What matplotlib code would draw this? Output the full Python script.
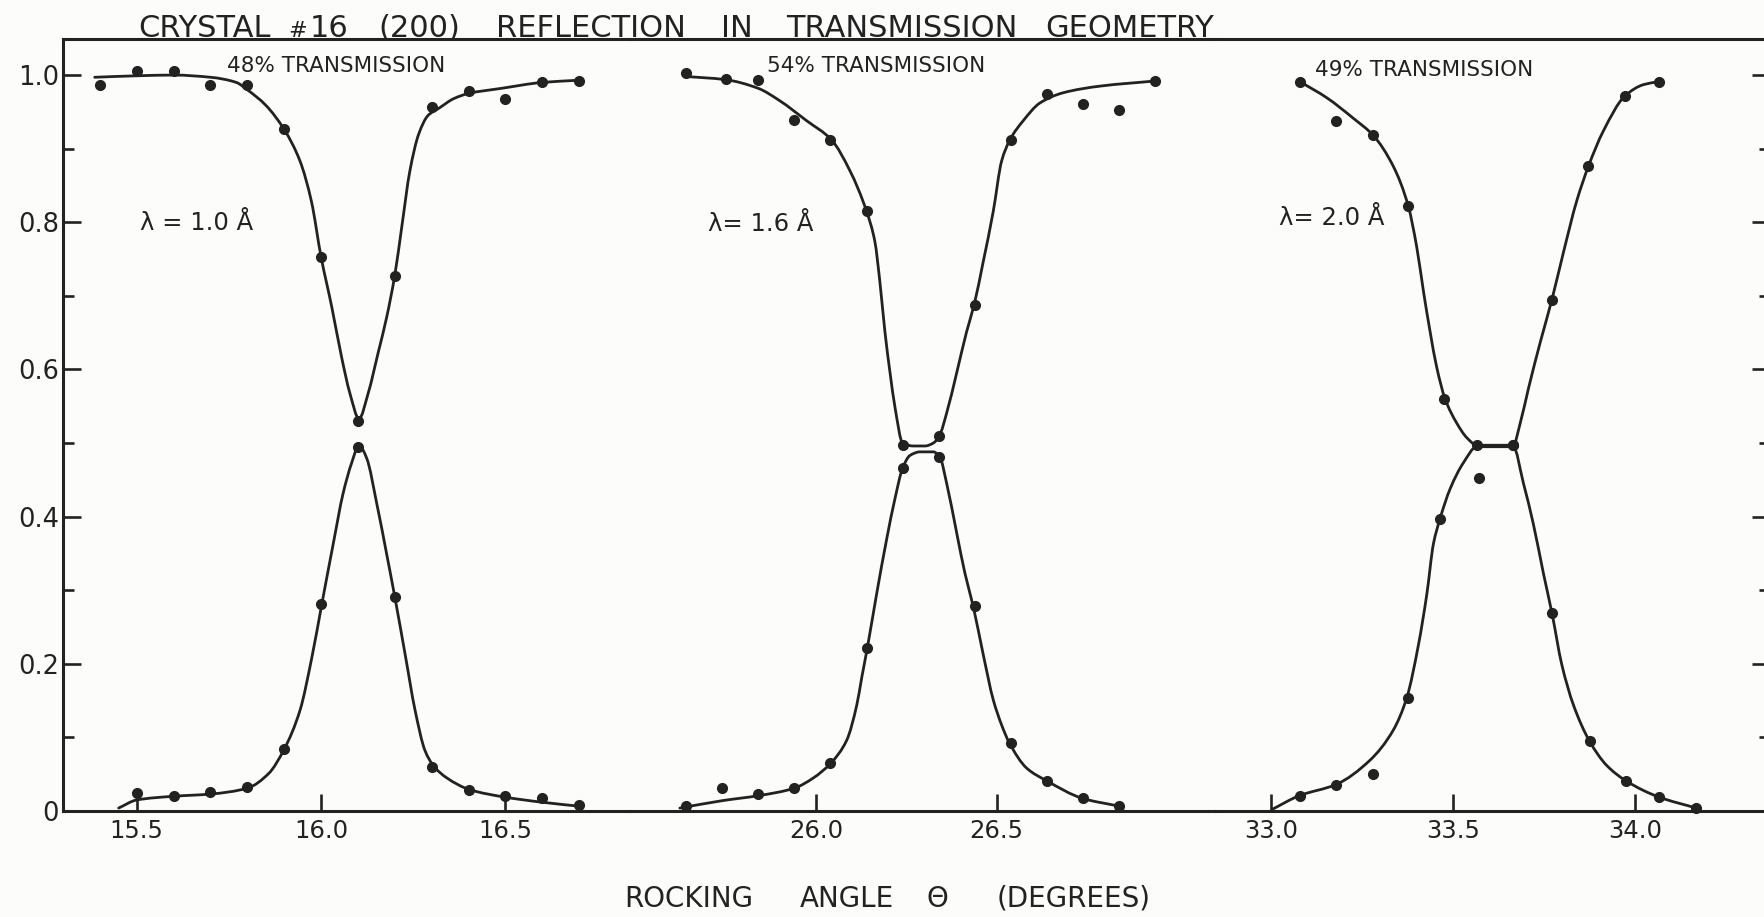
from __future__ import annotations

import matplotlib
matplotlib.use("Agg")
import matplotlib.pyplot as plt
import numpy as np
from matplotlib.patches import PathPatch
from matplotlib.path import Path
from matplotlib.ticker import FixedLocator, MultipleLocator

INK = "#222222"
PAPER = "#fcfcfb"

# lambda = 1.0 A : measured transmitted / reflected intensities
T1_THETA = [15.4, 15.5, 15.6, 15.7, 15.8, 15.9, 16.0, 16.1, 16.2, 16.3, 16.4, 16.5, 16.6, 16.7]
T1_VALUE = [0.986, 1.006, 1.006, 0.986, 0.986, 0.927, 0.753, 0.530, 0.727, 0.956, 0.978, 0.967, 0.991, 0.992]
R1_THETA = [15.5, 15.6, 15.7, 15.8, 15.9, 16.0, 16.1, 16.2, 16.3, 16.4, 16.5, 16.6, 16.7]
R1_VALUE = [0.025, 0.020, 0.026, 0.033, 0.084, 0.281, 0.495, 0.291, 0.060, 0.029, 0.020, 0.017, 0.008]

# lambda = 1.0 A : hand-drawn fit curves
T1_FIT_THETA = [15.386, 15.50, 15.60, 15.70, 15.77, 15.80, 15.85, 15.90, 15.943, 15.974, 16.00,
                16.029, 16.056, 16.078, 16.103, 16.128, 16.155, 16.178, 16.20, 16.219, 16.241,
                16.265, 16.29, 16.32, 16.36, 16.40, 16.49, 16.60, 16.70]
T1_FIT_VALUE = [0.997, 0.999, 1.000, 0.997, 0.990, 0.980, 0.959, 0.926, 0.883, 0.828, 0.753,
                0.685, 0.616, 0.568, 0.533, 0.568, 0.623, 0.671, 0.728, 0.794, 0.870,
                0.920, 0.945, 0.955, 0.968, 0.975, 0.982, 0.990, 0.993]
R1_FIT_THETA = [15.451, 15.50, 15.60, 15.70, 15.80, 15.858, 15.90, 15.943, 15.974, 16.002, 16.033,
                16.060, 16.083, 16.103, 16.124, 16.151, 16.178, 16.20, 16.228, 16.255, 16.282,
                16.304, 16.341, 16.403, 16.497, 16.598, 16.71]
R1_FIT_VALUE = [0.004, 0.015, 0.020, 0.023, 0.031, 0.051, 0.084, 0.137, 0.206, 0.281, 0.363,
                0.432, 0.473, 0.497, 0.479, 0.418, 0.349, 0.291, 0.213, 0.137, 0.082,
                0.062, 0.045, 0.029, 0.019, 0.012, 0.006]

# lambda = 1.6 A
T2_THETA = [25.64, 25.75, 25.84, 25.94, 26.04, 26.14, 26.24, 26.34, 26.44, 26.54, 26.64, 26.74, 26.84, 26.94]
T2_VALUE = [1.003, 0.994, 0.993, 0.939, 0.912, 0.815, 0.498, 0.510, 0.688, 0.912, 0.974, 0.960, 0.953, 0.992]
R2_THETA = [25.64, 25.74, 25.84, 25.94, 26.04, 26.14, 26.24, 26.34, 26.44, 26.54, 26.64, 26.74, 26.84]
R2_VALUE = [0.007, 0.031, 0.023, 0.031, 0.065, 0.221, 0.466, 0.481, 0.279, 0.093, 0.041, 0.017, 0.007]

T2_FIT_THETA = [25.642, 25.746, 25.840, 25.900, 25.974, 26.043, 26.094, 26.140, 26.163, 26.177,
                26.191, 26.205, 26.219, 26.240, 26.270, 26.302, 26.325, 26.342, 26.362, 26.390,
                26.417, 26.438, 26.463, 26.491, 26.514, 26.537, 26.574, 26.620, 26.685, 26.787, 26.940]
T2_FIT_VALUE = [0.998, 0.994, 0.982, 0.965, 0.938, 0.912, 0.870, 0.815, 0.774, 0.719,
                0.651, 0.596, 0.548, 0.500, 0.496, 0.496, 0.500, 0.510, 0.541, 0.596,
                0.651, 0.688, 0.746, 0.815, 0.883, 0.912, 0.938, 0.962, 0.976, 0.985, 0.992]
R2_FIT_THETA = [25.623, 25.74, 25.843, 25.940, 25.993, 26.041, 26.085, 26.113, 26.127, 26.142,
                26.168, 26.196, 26.219, 26.240, 26.260, 26.288, 26.325, 26.343, 26.362, 26.390,
                26.413, 26.435, 26.463, 26.491, 26.514, 26.535, 26.584, 26.639, 26.739, 26.835]
R2_FIT_VALUE = [0.004, 0.014, 0.021, 0.031, 0.045, 0.065, 0.096, 0.144, 0.182, 0.221,
                0.295, 0.370, 0.425, 0.466, 0.483, 0.488, 0.488, 0.481, 0.445, 0.377,
                0.322, 0.279, 0.213, 0.151, 0.117, 0.093, 0.058, 0.041, 0.017, 0.007]

# lambda = 2.0 A
T3_THETA = [33.08, 33.18, 33.28, 33.375, 33.475, 33.565, 33.665, 33.77, 33.87, 33.97, 34.065]
T3_VALUE = [0.991, 0.938, 0.918, 0.822, 0.560, 0.498, 0.498, 0.695, 0.876, 0.972, 0.991]
R3_THETA = [33.08, 33.18, 33.28, 33.375, 33.465, 33.57, 33.665, 33.77, 33.875, 33.975, 34.065, 34.165]
R3_VALUE = [0.021, 0.036, 0.050, 0.154, 0.397, 0.452, 0.497, 0.269, 0.095, 0.041, 0.019, 0.004]

T3_FIT_THETA = [33.080, 33.154, 33.227, 33.281, 33.336, 33.377, 33.400, 33.419, 33.437, 33.455,
                33.478, 33.510, 33.538, 33.565, 33.665, 33.684, 33.707, 33.739, 33.771, 33.803,
                33.839, 33.871, 33.912, 33.972, 34.022, 34.063]
T3_FIT_VALUE = [0.991, 0.969, 0.941, 0.918, 0.876, 0.822, 0.767, 0.705, 0.651, 0.603,
                0.560, 0.527, 0.507, 0.497, 0.497, 0.527, 0.575, 0.637, 0.695, 0.760,
                0.829, 0.876, 0.924, 0.972, 0.987, 0.991]
R3_FIT_THETA = [33.003, 33.079, 33.179, 33.272, 33.336, 33.373, 33.405, 33.428, 33.446, 33.464,
                33.492, 33.528, 33.565, 33.665, 33.693, 33.720, 33.748, 33.771, 33.798, 33.830,
                33.874, 33.921, 33.974, 34.064, 34.167]
R3_FIT_VALUE = [0.002, 0.021, 0.036, 0.069, 0.110, 0.154, 0.226, 0.295, 0.363, 0.397,
                0.438, 0.473, 0.495, 0.495, 0.445, 0.390, 0.322, 0.269, 0.199, 0.144,
                0.095, 0.062, 0.041, 0.019, 0.004]

# per-panel labels
TRANSMISSION_LABELS = ["48% TRANSMISSION", "54% TRANSMISSION", "49% TRANSMISSION"]
WAVELENGTH_LABELS = ["λ = 1.0 Å", "λ= 1.6 Å", "λ= 2.0 Å"]
X_TICKS = [[15.5, 16.0, 16.5], [26.0, 26.5], [33.0, 33.5, 34.0]]
Y_TICKS = [0, 0.2, 0.4, 0.6, 0.8, 1.0]
Y_TICK_LABELS = ["0", "0.2", "0.4", "0.6", "0.8", "1.0"]
TITLE_WORDS = ["CRYSTAL", "#", "16", "(200)", "REFLECTION", "IN", "TRANSMISSION", "GEOMETRY"]
XLABEL_WORDS = ["ROCKING", "ANGLE", "Θ", "(DEGREES)"]

# layout, in output pixels (1764 x 917)
W, H = 1764, 917
FRAME_TOP, FRAME_BOTTOM = 39, 811
PANEL_EDGES = [63, 630, 1215, 1770]   # last panel runs past the page edge
XLIMS = [(15.300, 16.838), (25.485, 27.105), (32.847, 34.369)]
YMAX = 1.049
TITLE_X = [138, 288, 310, 378, 496, 721, 786, 1045]
TITLE_SIZE = [22, 16, 22, 22, 22, 22, 22, 22]
TITLE_BASE = 37
XLABEL_X = [624, 800, 926, 997]
XLABEL_BASE = 907
TRANS_POS = [(15.745, 1.004), (25.865, 1.004), (33.120, 0.999)]
LAMBDA_POS = [(15.510, 0.789), (25.702, 0.788), (33.023, 0.796)]


def fx(px: float) -> float:
    return px / W


def fy(py: float) -> float:
    return 1 - py / H


def fit_path(xs, ys) -> Path:
    """Pen line through the fit knots as monotone cubic (PCHIP-style) Beziers.

    Slopes are zero wherever the knots turn, so the flat tops and the
    sharp minima don't overshoot.
    """
    x = np.asarray(xs, float)
    y = np.asarray(ys, float)
    h = np.diff(x)
    delta = np.diff(y) / h
    m = np.empty_like(y)
    m[0], m[-1] = delta[0], delta[-1]
    for k in range(1, len(x) - 1):
        if delta[k - 1] * delta[k] <= 0:
            m[k] = 0.0
        else:
            w1 = 2 * h[k] + h[k - 1]
            w2 = h[k] + 2 * h[k - 1]
            m[k] = (w1 + w2) / (w1 / delta[k - 1] + w2 / delta[k])

    verts = [(x[0], y[0])]
    codes = [Path.MOVETO]
    for k in range(len(x) - 1):
        verts += [(x[k] + h[k] / 3, y[k] + m[k] * h[k] / 3),
                  (x[k + 1] - h[k] / 3, y[k + 1] - m[k + 1] * h[k] / 3),
                  (x[k + 1], y[k + 1])]
        codes += [Path.CURVE4] * 3
    return Path(verts, codes)


def draw_panel(fig, k: int, points, fits):
    left, right = PANEL_EDGES[k], PANEL_EDGES[k + 1]
    ax = fig.add_axes([fx(left), fy(FRAME_BOTTOM), (right - left) / W,
                       (FRAME_BOTTOM - FRAME_TOP) / H])
    ax.set_facecolor("none")
    ax.set_xlim(*XLIMS[k])
    ax.set_ylim(0, YMAX)

    for th, val in fits:
        ax.add_patch(PathPatch(fit_path(th, val), fill=False, ec=INK, lw=2.0,
                               capstyle="round", joinstyle="round", zorder=2))
    for th, val in points:
        ax.plot(th, val, "o", color=INK, ms=7, mec=INK, zorder=3, clip_on=False)

    for side, spine in ax.spines.items():
        spine.set_linewidth(2.2)
        spine.set_color(INK)
    ax.spines["left"].set_visible(k == 0)
    ax.spines["right"].set_visible(k == 2)

    ax.set_xticks(X_TICKS[k], [f"{t:.1f}" for t in X_TICKS[k]])
    ax.tick_params(axis="x", direction="in", length=12.5, width=1.9, color=INK,
                   labelsize=17.5, labelcolor=INK, pad=6, top=False)

    ax.yaxis.set_major_locator(FixedLocator(Y_TICKS))
    ax.yaxis.set_minor_locator(MultipleLocator(0.1))
    ax.set_yticklabels(Y_TICK_LABELS)
    ax.tick_params(axis="y", which="both", direction="in", width=1.9, color=INK,
                   left=(k == 0), right=(k == 2), labelleft=(k == 0), labelright=False,
                   labelsize=18.5, labelcolor=INK, pad=3)
    ax.tick_params(axis="y", which="major", length=13)
    ax.tick_params(axis="y", which="minor", length=8)

    ax.text(*TRANS_POS[k], TRANSMISSION_LABELS[k], fontsize=15.5, color=INK,
            ha="left", va="baseline")
    ax.text(*LAMBDA_POS[k], WAVELENGTH_LABELS[k], fontsize=17.5, color=INK,
            ha="left", va="baseline")
    return ax


def main(output_path: str = "out.png"):
    plt.rcParams["font.family"] = ["DejaVu Sans"]
    fig = plt.figure(figsize=(W / 100, H / 100), dpi=100, facecolor=PAPER)

    panels = [
        ([(T1_THETA, T1_VALUE), (R1_THETA, R1_VALUE)],
         [(T1_FIT_THETA, T1_FIT_VALUE), (R1_FIT_THETA, R1_FIT_VALUE)]),
        ([(T2_THETA, T2_VALUE), (R2_THETA, R2_VALUE)],
         [(T2_FIT_THETA, T2_FIT_VALUE), (R2_FIT_THETA, R2_FIT_VALUE)]),
        ([(T3_THETA, T3_VALUE), (R3_THETA, R3_VALUE)],
         [(T3_FIT_THETA, T3_FIT_VALUE), (R3_FIT_THETA, R3_FIT_VALUE)]),
    ]
    for k, (points, fits) in enumerate(panels):
        draw_panel(fig, k, points, fits)

    # hand-lettered headings, word by word
    for word, x, size in zip(TITLE_WORDS, TITLE_X, TITLE_SIZE):
        fig.text(fx(x), fy(TITLE_BASE), word, fontsize=size, color=INK,
                 ha="left", va="baseline")
    for word, x in zip(XLABEL_WORDS, XLABEL_X):
        fig.text(fx(x), fy(XLABEL_BASE), word, fontsize=20, color=INK,
                 ha="left", va="baseline")

    fig.savefig(output_path, dpi=100, facecolor=PAPER)
    plt.close(fig)


if __name__ == "__main__":
    main()
